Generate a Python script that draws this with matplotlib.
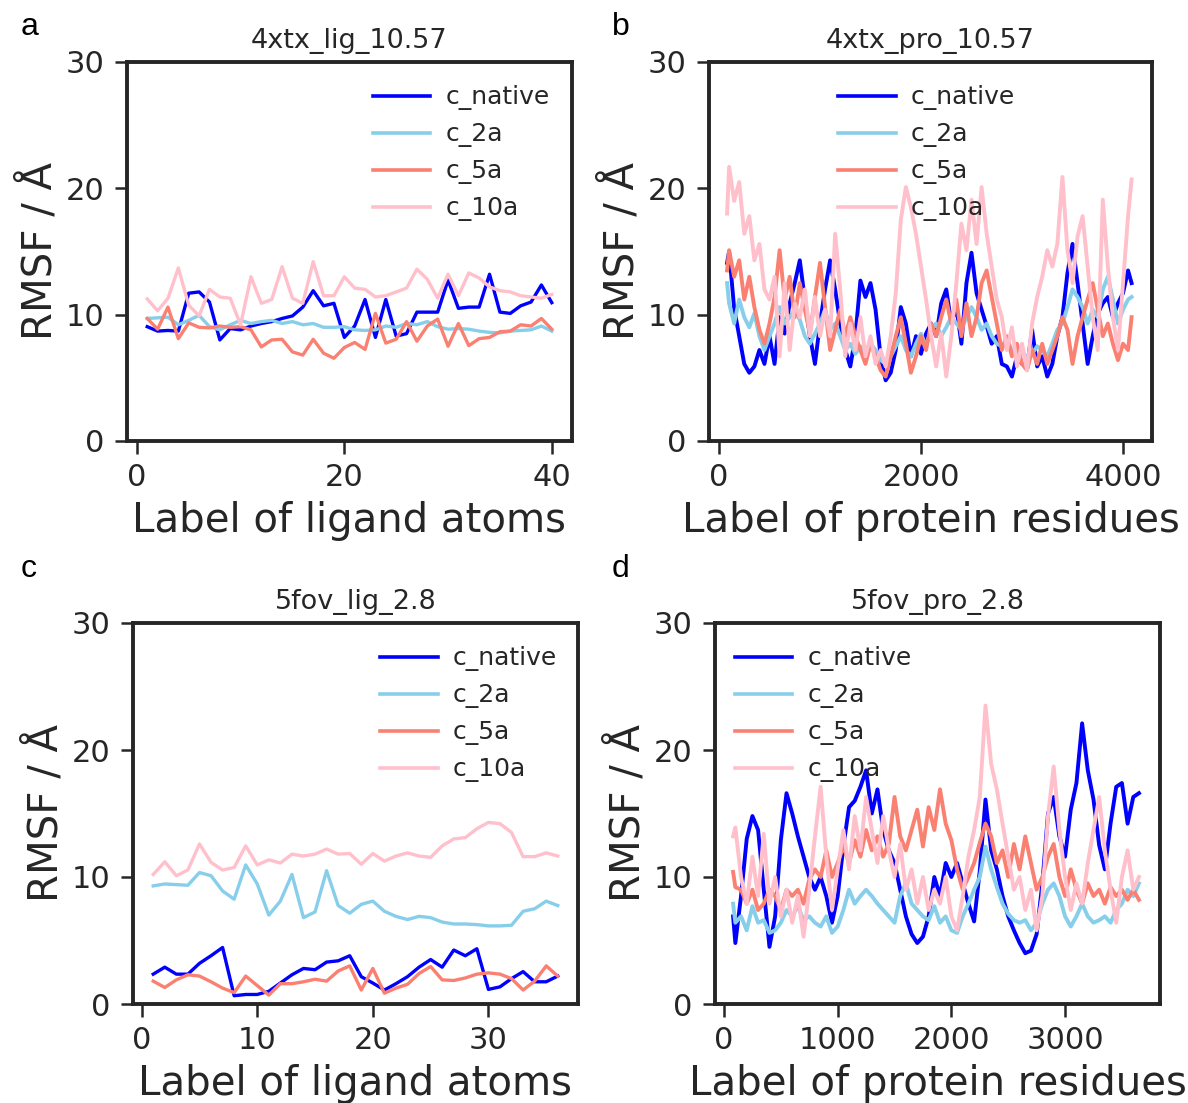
import matplotlib
matplotlib.use("Agg")
import matplotlib.pyplot as plt

# ---- data ----
series_names = ["c_native", "c_2a", "c_5a", "c_10a"]
series_colors = ["#0000ff", "#87ceeb", "#fa8072", "#ffc0cb"]

titles = ["4xtx_lig_10.57", "4xtx_pro_10.57", "5fov_lig_2.8", "5fov_pro_2.8"]
panel_letters = ["a", "b", "c", "d"]
xlabels = ["Label of ligand atoms", "Label of protein residues",
           "Label of ligand atoms", "Label of protein residues"]

# panel a: 4xtx ligand atoms 1..40
atoms_a = list(range(1, 41))
a_native = [9.05, 8.7, 8.75, 8.7, 11.7, 11.8, 11.0, 8.0, 8.9, 8.8,
            9.1, 9.3, 9.45, 9.7, 9.9, 10.6, 11.9, 10.7, 10.9, 8.2,
            9.1, 11.2, 8.2, 11.2, 8.3, 8.5, 10.2, 10.2, 10.2, 12.75,
            10.5, 10.6, 10.6, 13.2, 10.2, 10.1, 10.7, 11.0, 12.35, 10.95]
a_2a = [9.7, 9.75, 9.8, 9.2, 9.55, 9.95, 9.05, 8.8, 9.2, 9.55,
        9.3, 9.45, 9.55, 9.3, 9.45, 9.2, 9.3, 9.0, 9.0, 9.05,
        8.8, 8.75, 8.8, 9.1, 9.0, 9.3, 9.2, 9.45, 9.05, 8.85,
        8.9, 8.85, 8.7, 8.6, 8.55, 8.7, 8.75, 8.8, 9.1, 8.7]
a_5a = [9.7, 8.85, 10.6, 8.1, 9.35, 9.0, 8.95, 9.1, 9.0, 9.05,
        8.8, 7.45, 8.0, 8.05, 7.05, 6.8, 8.05, 6.95, 6.55, 7.4,
        7.8, 7.25, 10.1, 7.75, 8.05, 9.45, 7.9, 9.1, 9.65, 7.5,
        9.3, 7.55, 8.1, 8.2, 8.65, 8.7, 9.2, 9.1, 9.7, 8.85]
a_10a = [11.25, 10.3, 11.3, 13.7, 10.75, 9.9, 12.0, 11.4, 11.3, 9.2,
         13.0, 10.9, 11.2, 13.8, 11.3, 10.9, 14.2, 11.5, 11.5, 13.0,
         12.1, 12.0, 11.4, 11.5, 11.8, 12.1, 13.6, 12.8, 11.3, 13.2,
         11.5, 13.3, 12.9, 12.2, 11.9, 11.8, 11.5, 11.4, 11.3, 11.6]

# panel b: 4xtx protein residues (sampled)
res_b = [80] + list(range(100, 4051, 50)) + [4085]
b_native = [14.1, 15.0, 10.5, 8.3, 6.1, 5.4, 5.9, 7.2, 6.1, 8.3,
            6.1, 9.8, 8.5, 10.9, 12.5, 14.3, 11.2, 8.3, 6.1, 9.3,
            12.0, 14.3, 12.0, 9.3, 7.2, 5.9, 8.3, 12.7, 11.4, 12.5,
            10.4, 6.7, 4.8, 5.4, 7.2, 10.6, 9.3, 6.7, 8.3, 6.9,
            8.5, 9.3, 8.3, 10.9, 12.0, 9.3, 10.6, 7.7, 12.5, 14.9,
            11.7, 10.4, 9.1, 7.7, 8.3, 6.1, 5.9, 5.1, 6.7, 6.1,
            5.9, 8.8, 5.9, 6.7, 5.1, 6.1, 8.3, 9.8, 13.3, 15.6,
            12.5, 9.3, 6.1, 8.3, 10.1, 10.9, 11.4, 9.8, 10.9, 11.7,
            13.5, 12.5]
b_2a = [12.5, 10.9, 9.3, 11.2, 9.8, 9.0, 10.1, 8.3, 7.2, 8.3,
        9.3, 10.6, 9.3, 9.8, 10.4, 9.6, 8.3, 7.7, 8.5, 9.3,
        10.4, 8.8, 9.3, 8.3, 7.2, 7.7, 6.9, 7.5, 6.7, 7.7,
        7.2, 6.4, 6.1, 6.7, 7.5, 8.3, 7.2, 6.7, 7.7, 8.5,
        7.5, 8.8, 9.3, 8.3, 9.0, 9.8, 9.3, 8.8, 9.8, 10.6,
        9.8, 8.8, 9.3, 8.3, 7.7, 7.5, 8.0, 7.2, 6.7, 7.2,
        6.4, 6.9, 7.5, 7.2, 6.7, 7.7, 8.8, 9.3, 10.6, 12.0,
        11.4, 10.6, 9.3, 10.4, 9.8, 12.0, 13.0, 11.2, 9.3, 10.4,
        11.2, 11.4]
b_5a = [13.5, 15.1, 13.0, 14.3, 11.2, 13.0, 10.6, 8.8, 7.7, 9.3,
        11.4, 15.1, 11.2, 13.0, 9.8, 12.5, 10.4, 8.5, 11.4, 14.1,
        10.6, 7.2, 8.8, 10.4, 8.3, 9.8, 8.3, 7.2, 6.1, 7.7,
        6.7, 5.6, 5.1, 6.7, 8.3, 9.8, 7.7, 5.4, 6.7, 8.3,
        7.2, 9.3, 8.3, 9.8, 11.2, 9.3, 11.2, 8.3, 10.9, 8.3,
        9.8, 12.5, 13.5, 11.4, 9.3, 7.2, 8.3, 6.7, 7.7, 6.1,
        5.6, 7.2, 6.1, 7.7, 6.1, 7.2, 8.3, 9.8, 8.8, 6.1,
        8.3, 9.8, 11.2, 12.5, 10.4, 8.3, 9.3, 7.7, 6.4, 7.7,
        7.2, 9.8]
b_10a = [18.0, 21.7, 19.0, 20.5, 16.4, 17.8, 14.3, 15.6, 12.0, 11.2,
         13.0, 6.7, 12.5, 7.2, 10.9, 9.8, 12.0, 8.3, 11.4, 8.3,
         10.4, 8.3, 16.4, 12.0, 6.7, 9.3, 7.2, 9.8, 6.7, 8.3,
         6.1, 7.2, 5.9, 8.3, 11.7, 17.5, 20.1, 18.5, 16.4, 13.8,
         11.2, 8.3, 5.9, 8.5, 5.1, 8.3, 12.5, 17.2, 15.1, 19.1,
         15.6, 20.1, 16.4, 13.8, 11.2, 9.8, 7.2, 9.0, 5.9, 7.7,
         5.6, 9.3, 11.4, 13.0, 15.1, 13.8, 15.6, 20.9, 15.1, 12.5,
         16.2, 17.8, 13.8, 9.8, 7.2, 19.1, 13.8, 9.8, 7.2, 12.5,
         17.8, 20.7]

# panel c: 5fov ligand atoms 1..36
atoms_c = list(range(1, 37))
c_native = [2.35, 2.9, 2.35, 2.35, 3.2, 3.8, 4.45, 0.65, 0.75, 0.75,
            1.0, 1.65, 2.3, 2.8, 2.7, 3.3, 3.4, 3.8, 2.15, 1.65,
            1.1, 1.6, 2.15, 2.9, 3.5, 2.9, 4.25, 3.8, 4.35, 1.15,
            1.35, 2.0, 2.55, 1.75, 1.75, 2.2]
c_2a = [9.3, 9.45, 9.4, 9.35, 10.35, 10.1, 8.9, 8.25, 10.95, 9.45,
        7.0, 8.1, 10.2, 6.8, 7.25, 10.5, 7.75, 7.15, 7.85, 8.1,
        7.3, 6.9, 6.65, 6.9, 6.8, 6.45, 6.3, 6.3, 6.25, 6.15,
        6.15, 6.2, 7.3, 7.5, 8.1, 7.75]
c_5a = [1.8, 1.3, 1.9, 2.3, 2.2, 1.75, 1.25, 0.9, 2.2, 1.45,
        0.7, 1.6, 1.6, 1.75, 1.95, 1.8, 2.6, 3.0, 1.1, 2.8,
        0.85, 1.25, 1.55, 2.4, 2.95, 1.9, 1.85, 2.05, 2.35, 2.45,
        2.35, 2.0, 1.1, 1.8, 3.0, 2.2]
c_10a = [10.2, 11.2, 10.1, 10.55, 12.6, 11.15, 10.55, 10.75, 12.45, 10.95,
         11.35, 11.1, 11.8, 11.65, 11.8, 12.2, 11.8, 11.85, 11.0, 11.85,
         11.25, 11.65, 11.9, 11.65, 11.55, 12.45, 13.0, 13.1, 13.8, 14.3,
         14.2, 13.5, 11.6, 11.6, 11.9, 11.65]

# panel d: 5fov protein residues (sampled)
res_d = [80] + list(range(100, 3601, 50)) + [3650]
d_native = [6.9, 4.8, 8.5, 13.0, 14.8, 13.7, 9.0, 4.5, 6.9, 12.9,
            16.6, 15.0, 13.2, 11.6, 10.0, 9.0, 10.0, 8.5, 6.4, 8.5,
            12.4, 15.5, 16.0, 17.1, 18.4, 15.0, 16.9, 13.7, 12.1, 11.1,
            9.0, 6.9, 5.5, 4.8, 5.3, 6.9, 10.0, 8.5, 11.1, 10.0,
            11.1, 9.5, 7.9, 6.5, 10.5, 16.1, 12.1, 10.6, 8.5, 6.9,
            5.8, 4.8, 4.0, 4.2, 5.5, 9.5, 15.0, 16.3, 13.2, 11.6,
            15.3, 17.4, 22.1, 18.4, 16.1, 12.5, 10.6, 14.2, 17.1, 17.4,
            14.2, 16.3, 16.6]
d_2a = [7.9, 6.4, 6.9, 5.8, 7.7, 6.4, 6.6, 5.6, 5.8, 6.4,
        7.4, 6.9, 7.7, 6.6, 6.9, 6.4, 6.1, 6.9, 5.6, 6.1,
        7.4, 9.0, 7.9, 8.5, 9.0, 8.5, 7.9, 7.4, 6.9, 6.4,
        8.5, 9.5, 7.9, 7.4, 6.9, 6.6, 7.7, 6.4, 6.9, 5.8,
        5.6, 6.9, 7.9, 9.0, 10.0, 12.4, 10.6, 9.2, 7.9, 7.1,
        6.6, 6.4, 6.6, 5.8, 6.4, 7.9, 9.0, 9.5, 8.5, 6.9,
        6.1, 6.9, 7.9, 6.9, 6.4, 6.6, 6.9, 6.4, 7.4, 7.9,
        9.0, 8.5, 9.5]
d_5a = [10.4, 9.2, 9.0, 7.9, 9.0, 7.4, 7.9, 9.0, 8.5, 7.4,
        9.0, 8.5, 9.0, 7.9, 9.8, 10.6, 10.0, 12.1, 10.0, 11.1,
        12.4, 11.1, 12.9, 11.6, 13.7, 12.1, 13.2, 11.6, 12.6, 16.3,
        13.2, 12.1, 13.7, 15.3, 12.4, 15.5, 13.7, 16.9, 14.2, 12.9,
        10.6, 9.0, 10.0, 11.1, 12.7, 14.2, 13.2, 11.1, 12.1, 10.0,
        12.6, 10.6, 13.2, 11.1, 9.0, 10.0, 11.6, 12.6, 10.0, 8.5,
        10.6, 9.0, 7.9, 9.5, 8.5, 9.0, 7.9, 9.2, 8.5, 9.0,
        8.2, 9.0, 8.2]
d_10a = [13.2, 13.9, 10.0, 7.9, 11.6, 8.5, 13.4, 7.9, 10.0, 6.9,
         9.0, 6.4, 8.5, 5.3, 9.0, 13.2, 17.1, 11.6, 7.4, 10.6,
         13.7, 10.6, 14.8, 12.1, 16.3, 13.7, 11.1, 14.8, 12.1, 10.0,
         12.6, 9.0, 10.6, 7.9, 10.0, 7.4, 9.0, 7.9, 10.0, 6.9,
         5.8, 8.5, 11.6, 13.7, 16.3, 23.5, 18.9, 16.9, 14.2, 11.6,
         9.0, 10.0, 7.4, 9.0, 5.8, 8.5, 14.8, 18.7, 13.7, 10.0,
         7.4, 9.5, 7.9, 11.1, 13.7, 16.3, 12.1, 9.0, 6.4, 10.0,
         12.1, 9.0, 10.0]

panels = [
    (atoms_a, [a_native, a_2a, a_5a, a_10a]),
    (res_b, [b_native, b_2a, b_5a, b_10a]),
    (atoms_c, [c_native, c_2a, c_5a, c_10a]),
    (res_d, [d_native, d_2a, d_5a, d_10a]),
]

# ---- style ----
dark = "#262626"
plt.rcParams["font.family"] = ["DejaVu Sans"]
plt.rcParams["text.color"] = dark
plt.rcParams["axes.labelcolor"] = dark
plt.rcParams["xtick.color"] = dark
plt.rcParams["ytick.color"] = dark

fig = plt.figure(figsize=(11.88, 11.03), dpi=100)

W, H = 1188.0, 1103.0
boxes = [(127, 62, 572, 441), (709, 62, 1152, 441),
         (133, 623, 578, 1004), (715, 623, 1160, 1004)]
xlims = [None, (-99, 4287), None, (-79, 3835)]
xtick_sets = [[0, 20, 40], [0, 2000, 4000], [0, 10, 20, 30], [0, 1000, 2000, 3000]]
legend_x = [0.53, 0.269, 0.533, 0.022]
line_w = [2.4, 2.8, 2.4, 2.8]
# panel letters: left edge and baseline, in pixels
letter_pos = [(21, 35), (612, 35), (21, 577), (612, 577)]

for i, (x, ys) in enumerate(panels):
    l, t, r, b = boxes[i]
    ax = fig.add_axes([l / W, 1 - b / H, (r - l) / W, (b - t) / H])
    for y, name, col in zip(ys, series_names, series_colors):
        ax.plot(x, y, color=col, lw=line_w[i], label=name)
    ax.set_ylim(0, 30)
    ax.set_yticks([0, 10, 20, 30])
    ax.set_xticks(xtick_sets[i])
    if xlims[i] is not None:
        ax.set_xlim(*xlims[i])
    for sp in ax.spines.values():
        sp.set_linewidth(2.8)
        sp.set_color(dark)
    ax.tick_params(labelsize=22, length=9, width=1.8, pad=7)
    ax.set_ylabel("RMSF / Å", fontsize=29)
    ax.set_xlabel(xlabels[i], fontsize=29, labelpad=6)
    ax.set_title(titles[i], fontsize=19.5, pad=10)
    leg = ax.legend(loc="upper left", bbox_to_anchor=(legend_x[i], 0.965),
                    borderaxespad=0, frameon=False, fontsize=18,
                    handlelength=2.3, handletextpad=0.6, labelspacing=0.48)
    for h in leg.get_lines():
        h.set_linewidth(2.6)
    lx, ly = letter_pos[i]
    fig.text(lx / W, 1 - ly / H, panel_letters[i], fontsize=23,
             family=["Liberation Sans", "DejaVu Sans"],
             ha="left", va="baseline", color="black")

fig.savefig("out.png", dpi=100)
